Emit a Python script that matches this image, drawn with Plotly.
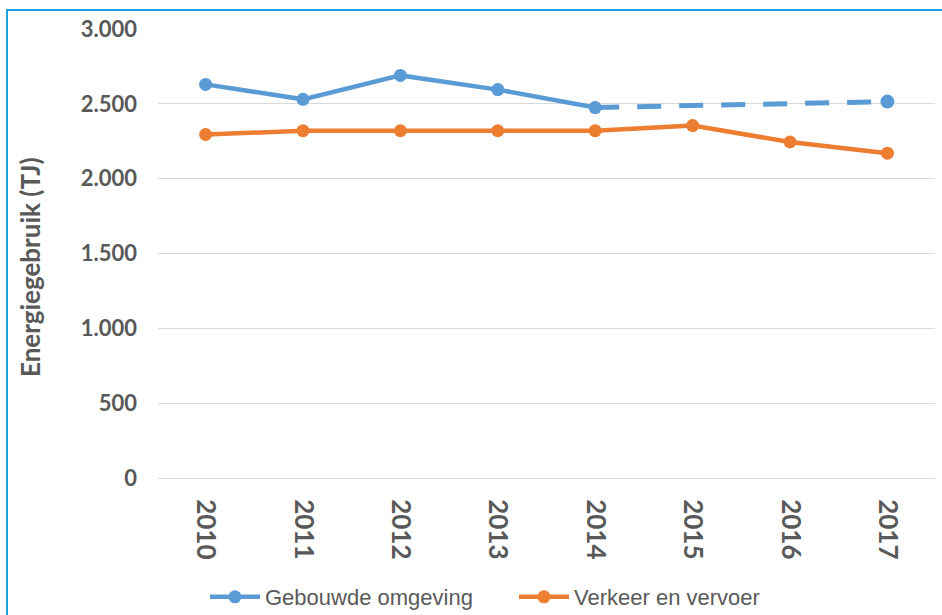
import plotly.graph_objects as go

years = ['2010', '2011', '2012', '2013', '2014', '2015', '2016', '2017']

# Gebouwde omgeving: measured up to 2014, dashed projection afterwards
gebouwd_gemeten = [2630, 2530, 2690, 2595, 2475, None, None, None]
gebouwd_prognose = [None, None, None, None, 2475, 2488, 2500, 2515]
verkeer = [2295, 2320, 2320, 2320, 2320, 2355, 2245, 2170]

BLUE = '#5b9bd5'
ORANGE = '#ed7d31'
GREY = '#595959'

fig = go.Figure()

fig.add_trace(go.Scatter(
    x=years, y=gebouwd_gemeten, name='Gebouwde omgeving',
    mode='lines+markers',
    line=dict(color=BLUE, width=4.5),
    marker=dict(color=BLUE, size=13),
))

fig.add_trace(go.Scatter(
    x=years, y=gebouwd_prognose, name='prognose',
    mode='lines', showlegend=False,
    line=dict(color=BLUE, width=5, dash='24px,18px'),
))

# only the last projected year gets a marker
laatste = [None] * 7 + [gebouwd_prognose[-1]]
fig.add_trace(go.Scatter(
    x=years, y=laatste, mode='markers', showlegend=False,
    marker=dict(color=BLUE, size=14, opacity=1),
))

fig.add_trace(go.Scatter(
    x=years, y=verkeer, name='Verkeer en vervoer',
    mode='lines+markers',
    line=dict(color=ORANGE, width=4.5),
    marker=dict(color=ORANGE, size=13),
))

fig.update_layout(
    width=942, height=615,
    margin=dict(l=158, r=7, t=29, b=137),
    paper_bgcolor='white', plot_bgcolor='white',
    separators=',.',
    font=dict(family='Lato, Open Sans, sans-serif', color=GREY),
    legend=dict(
        orientation='h', xref='container', yref='container',
        x=0.2176, y=0.0293, xanchor='left', yanchor='middle',
        font=dict(family='Liberation Sans, sans-serif', size=22, color=GREY),
        entrywidth=244, entrywidthmode='pixels',
        itemwidth=50, tracegroupgap=0,
    ),
    shapes=[dict(
        type='rect', xref='paper', yref='paper',
        x0=-0.1943, y0=-0.5, x1=1.2, y1=1.0423,
        line=dict(color='#1ba1e2', width=2), layer='below',
    )],
    annotations=[dict(
        text='<b>Energiegebruik (TJ)</b>', textangle=-90,
        xref='paper', yref='paper', x=-0.1647, y=0.47,
        xanchor='center', yanchor='middle', showarrow=False,
        font=dict(family='Lato, sans-serif', size=26, color=GREY),
    )],
)

fig.update_xaxes(
    type='category', tickangle=90, showgrid=False, automargin=False,
    showline=True, linecolor='#d9d9d9', linewidth=1,
    tickfont=dict(family='Lato, sans-serif', size=26, color=GREY, weight='bold'),
    ticks='', ticklabelstandoff=15,
)

fig.update_yaxes(
    range=[0, 3000], dtick=500, tickformat=',d', automargin=False,
    showgrid=True, gridcolor='#d9d9d9', gridwidth=1,
    zeroline=False, ticks='', ticklabelstandoff=20,
    tickfont=dict(family='Lato, sans-serif', size=22, color=GREY, weight='bold'),
)

fig.write_html('out.html', config={'displayModeBar': False},
               post_script="document.body.style.margin='0px';")
